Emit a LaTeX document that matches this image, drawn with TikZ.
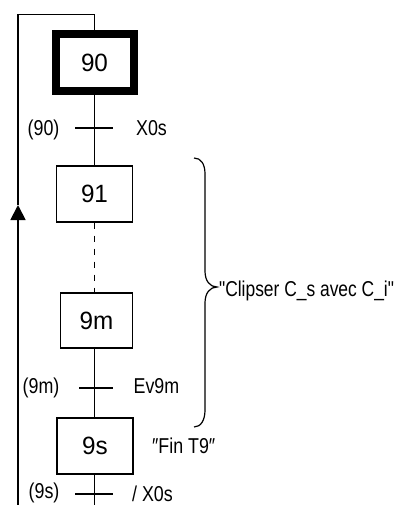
\documentclass[tikz,border=0pt]{standalone}
\usepackage{fontspec}
\usepackage{graphicx}
\setmainfont{Liberation Sans}
\newfontfamily\rawfont{Liberation Sans}
\usetikzlibrary{arrows.meta}
\newcommand\narrowtext[1]{\scalebox{0.83}[1]{#1}}
\newcommand\steptext[1]{\scalebox{0.97}[1]{#1}}
\begin{document}
\begin{tikzpicture}[x=1pt,y=-1pt,
  line width=1.2pt,
  stepbox/.style={draw,rectangle,inner sep=0pt,minimum width=76pt,minimum height=56pt,
    font=\fontsize{25}{29}\selectfont},
  initbox/.style={stepbox,line width=8pt,minimum width=78pt,minimum height=57pt},
  lbl/.style={inner sep=0pt,font=\fontsize{21.5}{25}\selectfont},
  tbar/.style={line width=1.2pt}]
\useasboundingbox (0,0) rectangle (408,505);
% steps
\node[initbox] (s90) at (94.5,62.5) {\steptext{90}};
\node[stepbox] (s91) at (94.5,194) {\steptext{91}};
\node[stepbox,minimum width=71.5pt,minimum height=55pt] (s9m) at (96.5,320.5) {\steptext{9m}};
\node[stepbox,minimum height=56pt] (s9s) at (95,446) {\steptext{9s}};
% transition points
\coordinate (t90) at (94.5,128);
\coordinate (t9m) at (94.5,388);
\coordinate (t9s) at (94.5,494);
\coordinate (bot) at (94.5,505);
% vertical links
\draw (s90.south) -- (s91.north);
\draw[dash pattern=on 6.5pt off 6.5pt] (s91.south) -- (s91.south |- s9m.north);
\draw (s91.south |- s9m.south) -- (s91.south |- s9s.north);
\draw (s91.south |- s9s.south) -- (bot);
% transition bars
\draw[tbar] ([xshift=-19.5pt]t90) -- ([xshift=18.5pt]t90);
\draw[tbar] ([xshift=-15.5pt]t9m) -- ([xshift=18.5pt]t9m);
\draw[tbar] ([xshift=-19.5pt]t9s) -- ([xshift=18.5pt]t9s);
% transition labels
\node[lbl,anchor=base east] (l90) at (60,136) {\narrowtext{(90)}};
\node[lbl,anchor=base west] (r90) at (135.5,136) {\narrowtext{X0s}};
\node[lbl,anchor=base east] (l9m) at (60,393) {\narrowtext{(9m)}};
\node[lbl,anchor=base west] (r9m) at (133,393) {\narrowtext{Ev9m}};
\node[lbl,anchor=base east] (l9s) at (60,498) {\narrowtext{(9s)}};
\node[lbl,anchor=base west] (r9s) at (131.5,501.5) {\narrowtext{/ X0s}};
\node[lbl,anchor=base west] (fin) at (151.5,453) {\narrowtext{″Fin T9″}};
% loop back
\coordinate (looptop) at (18,14.3);
\coordinate (arrowtip) at (18,205);
\coordinate (loopbot) at (18,505);
\draw (s90.north) -- (s90.north |- looptop) -- (looptop) -- (arrowtip);
\draw[line width=1.8pt,-{Triangle[length=15pt,width=15pt]}] (loopbot) -- (arrowtip);
% brace
\coordinate (btop) at (194,158);
\coordinate (btip) at (217,287);
\coordinate (bbot) at (194,427);
\draw (btop) .. controls (201,158) and (205,164) .. (205,174)
  -- (205,271) .. controls (205,281) and (210,287) .. (btip)
  .. controls (210,287) and (205,293) .. (205,303)
  -- (205,410) .. controls (205,420) and (201,427) .. (bbot);
\node[lbl,anchor=base west,font=\rawfont\fontsize{21.5}{25}\selectfont] (clip) at (218.5,296) {\scalebox{0.81}[1]{"Clipser C\_s avec C\_i"}};
\end{tikzpicture}
\end{document}
